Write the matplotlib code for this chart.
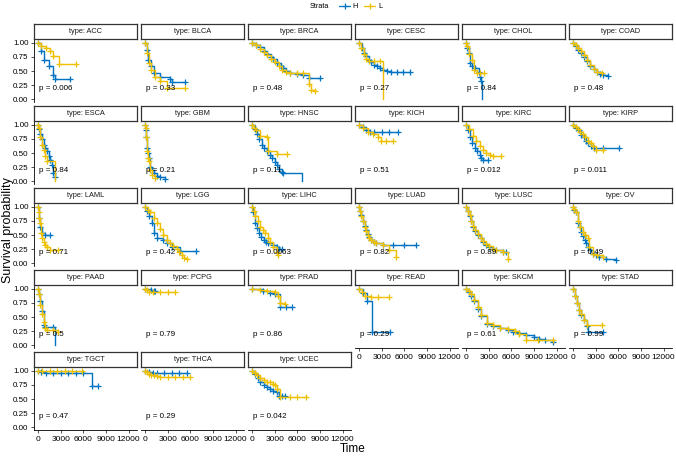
import matplotlib
matplotlib.use("Agg")
import matplotlib.pyplot as plt

plt.rcParams['font.family'] = ['Liberation Sans', 'DejaVu Sans']

# cancer types, p-values and KM curves (time in days)
types = ['ACC', 'BLCA', 'BRCA', 'CESC', 'CHOL', 'COAD',
         'ESCA', 'GBM', 'HNSC', 'KICH', 'KIRC', 'KIRP',
         'LAML', 'LGG', 'LIHC', 'LUAD', 'LUSC', 'OV',
         'PAAD', 'PCPG', 'PRAD', 'READ', 'SKCM', 'STAD',
         'TGCT', 'THCA', 'UCEC']
pvals = ['0.006', '0.33', '0.48', '0.27', '0.84', '0.48',
         '0.84', '0.21', '0.11', '0.51', '0.012', '0.011',
         '0.71', '0.42', '0.0063', '0.82', '0.89', '0.49',
         '0.5', '0.79', '0.86', '0.29', '0.61', '0.99',
         '0.47', '0.29', '0.042']

h_time = [
    [0, 300, 700, 1400, 2000, 2250, 4200],
    [0, 200, 400, 700, 1100, 2000, 3300, 3500, 5300],
    [0, 500, 1000, 1500, 2000, 2500, 2800, 3300, 3800, 4100, 4500, 5000, 6000, 6800, 7500, 9000],
    [0, 300, 570, 900, 1230, 1500, 1900, 2300, 2800, 3200, 3650, 4200, 5000, 5800, 6700],
    [0, 150, 300, 530, 800, 1200, 1630, 1850, 2000, 2070],
    [0, 300, 600, 1000, 1400, 1800, 2240, 2700, 3100, 3600, 4000, 4660],
    [0, 130, 260, 480, 700, 900, 1140, 1360, 1580, 1800, 2000, 2240],
    [0, 50, 110, 220, 330, 440, 660, 880, 1100, 1500, 2000, 2640],
    [0, 300, 600, 900, 1270, 1600, 1930, 2300, 2600, 3000, 3250, 3600, 3900, 4130, 6550],
    [0, 480, 920, 1360, 2000, 3000, 4000, 5100],
    [0, 200, 440, 800, 1100, 1400, 1760, 2000, 2200, 2860],
    [0, 400, 700, 1050, 1400, 1700, 2000, 2370, 2800, 4000, 6100],
    [0, 130, 260, 500, 920, 1580],
    [0, 200, 440, 880, 1100, 1540, 2420, 2860, 3520, 4620, 6800],
    [0, 100, 400, 600, 830, 1100, 1500, 1800, 2150, 2700, 3250, 3500, 3910],
    [0, 130, 260, 480, 700, 900, 1140, 1350, 1580, 1900, 2240, 3100, 4500, 6000, 7500],
    [0, 200, 440, 660, 880, 1200, 1540, 1900, 2200, 2600, 3080, 3500, 3950, 4840, 5300],
    [0, 150, 300, 620, 850, 1050, 1270, 1500, 1700, 1930, 2200, 2600, 3000, 3470, 4350, 5670],
    [0, 100, 260, 480, 700, 920, 2020, 2240],
    [0, 700, 1100, 1300],
    [0, 1400, 2370, 3000, 3690, 4500, 5230],
    [0, 500, 1000, 1675, 4090],
    [0, 300, 600, 1000, 1500, 2000, 2730, 3500, 4480, 5500, 6200, 7000, 7920, 9000, 9700, 10500, 11500],
    [0, 200, 500, 800, 1000, 1400, 1800, 1900, 3950],
    [0, 300, 1000, 2000, 3000, 4000, 5000, 6000, 7080, 7960],
    [0, 500, 1000, 1500, 2500, 3500, 4500, 5500],
    [0, 300, 700, 1000, 1500, 2000, 2370, 2800, 3250, 3500, 4000, 4350],
]
h_surv = [
    [1, .85, .70, .58, .43, .35, .35],
    [1, .88, .70, .58, .46, .40, .35, .31, .31],
    [1, .97, .92, .86, .80, .75, .71, .65, .59, .55, .50, .46, .44, .43, .375, .375],
    [1, .90, .82, .76, .70, .66, .61, .58, .55, .52, .50, .49, .48, .48, .48],
    [1, .90, .82, .64, .58, .55, .49, .40, .32, 0],
    [1, .95, .88, .82, .75, .67, .58, .53, .49, .45, .43, .42],
    [1, .92, .84, .74, .65, .58, .53, .44, .38, .29, .14, .08],
    [1, .90, .78, .59, .50, .41, .26, .20, .14, .10, .08, .04],
    [1, .92, .84, .75, .65, .58, .53, .47, .41, .34, .29, .22, .17, .14, 0],
    [1, .96, .90, .87, .87, .87, .87, .87],
    [1, .90, .78, .68, .59, .53, .47, .42, .37, .37],
    [1, .95, .90, .82, .78, .72, .68, .62, .59, .59, .59],
    [1, .80, .65, .53, .50, .50],
    [1, .92, .84, .72, .53, .44, .41, .35, .29, .21, .21],
    [1, .90, .72, .62, .53, .47, .41, .38, .35, .32, .29, .26, .26],
    [1, .93, .85, .75, .66, .58, .51, .46, .42, .38, .35, .32, .32, .32, .32],
    [1, .92, .84, .74, .65, .57, .50, .44, .38, .33, .29, .26, .23, .20, .20],
    [1, .95, .90, .72, .64, .56, .48, .41, .35, .29, .23, .17, .14, .11, .07, .05],
    [1, .90, .79, .60, .36, .33, .33, 0],
    [1, .98, .97, .97],
    [1, .96, .92, .90, .67, .67, .67],
    [1, .93, .78, .24, .24],
    [1, .95, .88, .78, .65, .52, .38, .34, .31, .27, .24, .21, .18, .15, .11, .09, .06],
    [1, .87, .74, .62, .54, .44, .34, .24, .24],
    [1, .98, .97, .97, .97, .97, .97, .97, .73, .73],
    [1, .98, .97, .97, .97, .97, .97, .97],
    [1, .95, .88, .81, .74, .71, .68, .65, .62, .55, .55, .55],
]

l_time = [
    [0, 400, 1000, 1600, 2000, 2700, 5000],
    [0, 200, 450, 750, 1300, 2000, 2900, 5300],
    [0, 500, 1000, 1500, 2000, 2500, 3000, 3500, 3900, 4500, 5000, 6000, 6800, 7600, 7800, 8300],
    [0, 250, 570, 900, 1230, 2000, 2700, 3200],
    [0, 150, 400, 700, 970, 1400, 1850, 2300],
    [0, 300, 600, 1000, 1400, 1800, 2240, 2700, 3100, 3780],
    [0, 130, 260, 480, 700, 900, 1140, 2240],
    [0, 50, 110, 220, 330, 440, 660, 880, 1300],
    [0, 200, 500, 1050, 1930, 2150, 3250, 4600],
    [0, 480, 1140, 1800, 2460, 2900, 3500, 4450],
    [0, 400, 880, 1300, 1760, 2200, 2640, 3100, 3500, 4600],
    [0, 300, 620, 950, 1270, 1600, 1930, 2300, 2600, 3030, 3900],
    [0, 50, 130, 250, 350, 500, 700, 900, 1140, 1580, 2680],
    [0, 300, 660, 1100, 1540, 2000, 2420, 2860, 3300, 3750, 4180, 4500, 4840, 5200, 5500],
    [0, 200, 400, 700, 1050, 1400, 1710, 2050, 2370, 2810, 3250, 3470],
    [0, 130, 260, 480, 700, 900, 1140, 1350, 1580, 1900, 2240, 3100, 4000, 4880],
    [0, 200, 440, 660, 880, 1200, 1540, 1900, 2200, 2600, 3080, 3500, 3950, 4840, 5500],
    [0, 150, 300, 620, 850, 1270, 1600, 1930, 2100, 2600, 3200, 3910],
    [0, 130, 260, 480, 700, 920, 1200, 2000, 2680],
    [0, 220, 440, 1000, 2000, 3000, 3960],
    [0, 1050, 1930, 3030, 3470, 3690, 4350],
    [0, 300, 800, 1500, 2500, 4000],
    [0, 300, 600, 1000, 1500, 2000, 2730, 3500, 4480, 5500, 6500, 7000, 7900, 9500, 11500],
    [0, 200, 500, 800, 1000, 1400, 1800, 3790],
    [0, 500, 1500, 2500, 3500, 4500, 5760],
    [0, 220, 500, 800, 1100, 1500, 2000, 3000, 4000, 5000, 5950],
    [0, 300, 620, 1000, 1500, 2000, 2370, 2800, 3030, 3250, 3690, 5000, 6000, 7200],
]
l_surv = [
    [1, .95, .90, .85, .76, .62, .62],
    [1, .82, .64, .52, .40, .32, .19, .19],
    [1, .96, .89, .84, .78, .71, .66, .58, .51, .48, .46, .46, .46, .27, .17, .14],
    [1, .90, .80, .72, .67, .67, .67, 0],
    [1, .94, .80, .70, .52, .46, .46, .46],
    [1, .96, .91, .85, .78, .70, .61, .54, .49, .46],
    [1, .95, .78, .65, .56, .44, .35, 0],
    [1, .95, .78, .53, .42, .35, .20, .11, .05],
    [1, .95, .90, .81, .78, .53, .49, .49],
    [1, .95, .87, .84, .78, .72, .72, .72],
    [1, .92, .81, .71, .62, .55, .50, .47, .45, .44],
    [1, .97, .93, .88, .84, .78, .72, .67, .62, .56, .55],
    [1, .90, .80, .72, .53, .45, .38, .33, .29, .23, .23],
    [1, .95, .90, .81, .72, .61, .50, .42, .35, .30, .26, .20, .14, .10, .07],
    [1, .92, .84, .75, .65, .59, .53, .45, .38, .29, .20, .14],
    [1, .92, .84, .74, .65, .57, .50, .45, .41, .38, .35, .32, .23, .11],
    [1, .93, .85, .75, .66, .58, .51, .45, .39, .34, .30, .26, .24, .20, .08],
    [1, .96, .90, .74, .65, .56, .50, .44, .29, .17, .14, .11],
    [1, .90, .72, .55, .42, .30, .27, .27, .24],
    [1, .98, .95, .95, .95, .95, .95],
    [1, .98, .96, .94, .88, .74, .73],
    [1, .95, .88, .85, .85, .85],
    [1, .96, .90, .80, .67, .54, .40, .35, .31, .28, .25, .20, .09, .09, .09],
    [1, .88, .75, .62, .55, .45, .36, .36],
    [1, .99, .99, .99, .99, .99, .99],
    [1, .98, .95, .93, .92, .90, .89, .89, .89, .89, .89],
    [1, .96, .92, .87, .83, .81, .80, .77, .74, .68, .54, .54, .54, .54],
]

x_ticks = [0, 3000, 6000, 9000, 12000]
y_ticks = [0, 0.25, 0.5, 0.75, 1.0]
col_h = '#0073C2'
col_l = '#EFC000'

W, H = 676, 457
fig = plt.figure(figsize=(W / 100, H / 100), dpi=100)


def box(x0, y0, w, h):
    # pixel box (top-left origin) -> figure fraction
    return [x0 / W, 1 - (y0 + h) / H, w / W, h / H]


def draw_km(ax, t, s, color):
    ax.step(t, s, where='post', color=color, lw=1.0)
    tt = [a for a, b in zip(t, s) if b > 0]
    ss = [b for b in s if b > 0]
    ax.plot(tt, ss, ls='none', marker='+', ms=4.5, mew=0.9, color=color)


ncol = 6
nrow = 5
for i, name in enumerate(types):
    r, c = divmod(i, ncol)
    left = 34 + 107 * c
    top = 24 + 82 * r
    ax = fig.add_axes(box(left, top + 16, 103, 62))
    draw_km(ax, h_time[i], h_surv[i], col_h)
    draw_km(ax, l_time[i], l_surv[i], col_l)
    ax.text(100, 0.19, 'p = ' + pvals[i], fontsize=5.8, ha='left', va='center')
    ax.set_xlim(-572, 13130)
    ax.set_ylim(-0.05, 1.05)
    for sp in ax.spines.values():
        sp.set_visible(False)
    ax.set_xticks(x_ticks)
    ax.set_yticks(y_ticks)
    ax.tick_params(length=2.5, width=0.6, color='#333333', labelsize=5.8, pad=1.5)
    ax.tick_params(axis='x', labelsize=6)
    bottom = (r == nrow - 1) or (i + ncol >= len(types))
    if c == 0:
        ax.spines['left'].set_visible(True)
        ax.spines['left'].set_linewidth(0.6)
        ax.set_yticklabels(['0.00', '0.25', '0.50', '0.75', '1.00'])
    else:
        ax.tick_params(left=False, labelleft=False)
    if bottom:
        ax.spines['bottom'].set_visible(True)
        ax.spines['bottom'].set_linewidth(0.6)
        ax.set_xticklabels([str(v) for v in x_ticks])
    else:
        ax.tick_params(bottom=False, labelbottom=False)

    # facet strip
    sax = fig.add_axes(box(left, top, 103, 15))
    sax.set_xticks([])
    sax.set_yticks([])
    for sp in sax.spines.values():
        sp.set_linewidth(0.9)
        sp.set_color('#333333')
    sax.text(0.5, 0.5, 'type: ' + name, fontsize=5.3, ha='center', va='center',
             transform=sax.transAxes, color='#1a1a1a')

fig.text(353 / W, 1 - 449 / H, 'Time', fontsize=8.5, ha='center', va='center')
fig.text(8 / W, 1 - 230 / H, 'Survival probability', fontsize=9, rotation=90,
         ha='center', va='center')

# legend at top
fig.text(319 / W, 1 - 6 / H, 'Strata', fontsize=5.3, ha='center', va='center')
for x0, colr, lab in [(345, col_h, 'H'), (370, col_l, 'L')]:
    lax = fig.add_axes(box(x0 - 6, 1, 12, 10))
    lax.plot([0, 1], [0.5, 0.5], color=colr, lw=0.9)
    lax.plot([0.5], [0.5], marker='+', ms=5, mew=0.9, color=colr)
    lax.set_xlim(0, 1)
    lax.set_ylim(0, 1)
    lax.axis('off')
    fig.text((x0 + 10) / W, 1 - 6 / H, lab, fontsize=5.3, ha='center', va='center')

fig.savefig('out.png', dpi=100)
